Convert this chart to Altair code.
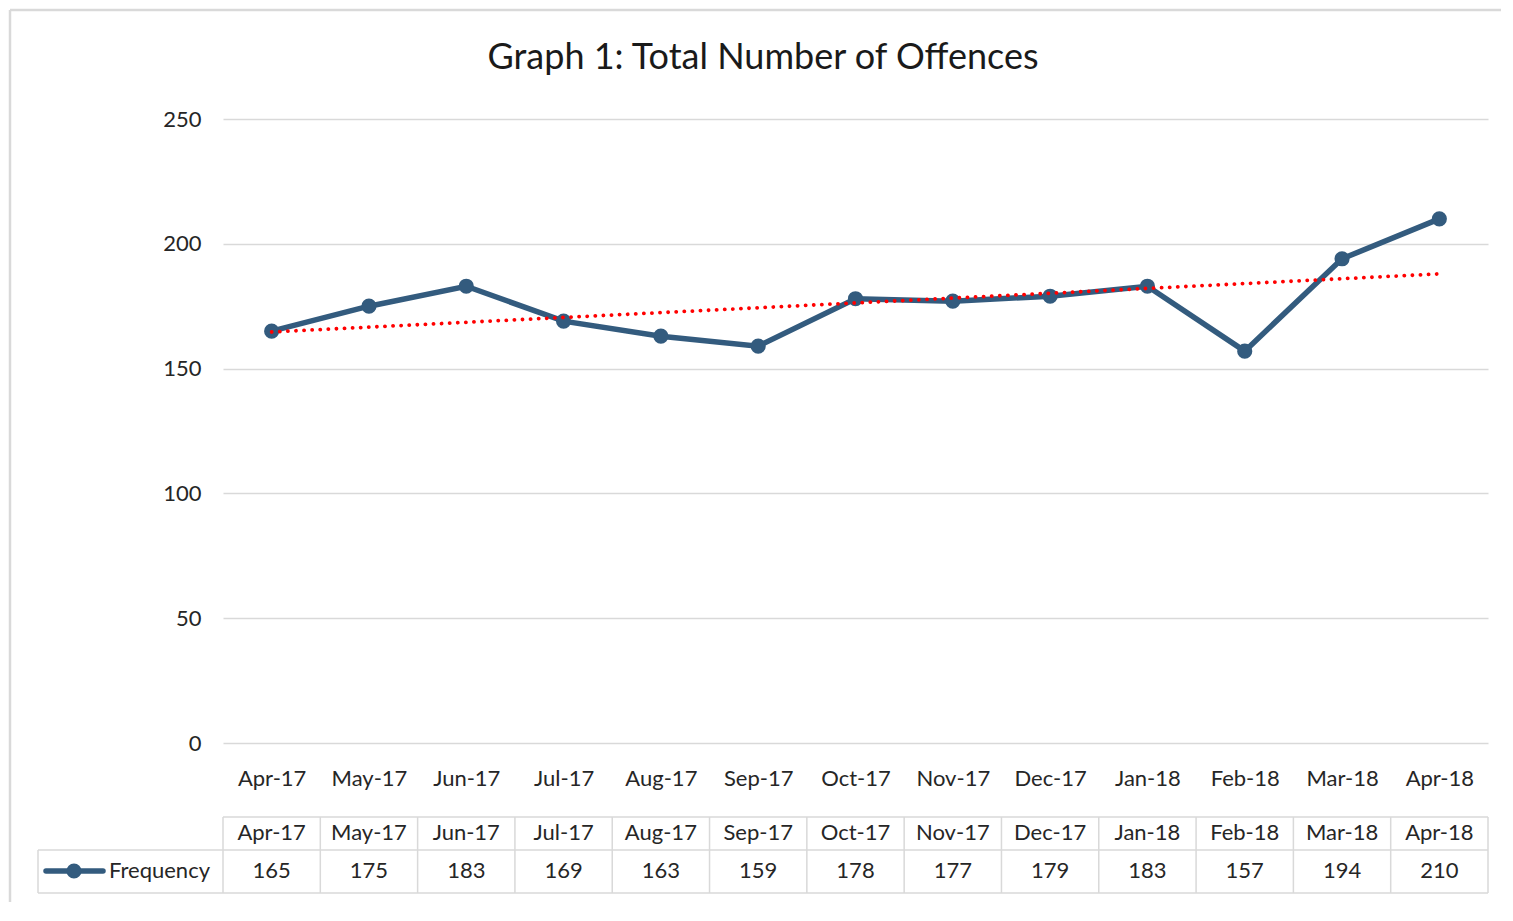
import json
import altair as alt
import pandas as pd

months = ["Apr-17", "May-17", "Jun-17", "Jul-17", "Aug-17", "Sep-17", "Oct-17",
          "Nov-17", "Dec-17", "Jan-18", "Feb-18", "Mar-18", "Apr-18"]
values = [165, 175, 183, 169, 163, 159, 178, 177, 179, 183, 157, 194, 210]
y_ticks = [0, 50, 100, 150, 200, 250]
title_text = "Graph 1: Total Number of Offences"
series_name = "Frequency"

LINE_C = "#335b7e"
GRID_C = "#d9d9d9"
TXT_C = "#262626"
FONT = "Lato"
W, H = 1265, 624

df = pd.DataFrame({"idx": list(range(len(months))), "month": months, "value": values})
bdf = pd.DataFrame({"b": [i - 0.5 for i in range(len(months) + 1)]})
ldf = pd.DataFrame({"label": [series_name]})
tdf = pd.DataFrame({"t": [title_text]})

xs = alt.Scale(domain=[-0.5, len(months) - 0.5], nice=False, zero=False)
ys = alt.Scale(domain=[0, 250], nice=False)

label_expr = json.dumps(months) + "[datum.value]"

base = alt.Chart(df)

line = base.mark_line(color=LINE_C, strokeWidth=5.5).encode(
    x=alt.X("idx:Q", scale=xs,
            axis=alt.Axis(values=list(range(len(months))), labelExpr=label_expr,
                          grid=False, ticks=False, domain=False, labelPadding=25,
                          labelFontSize=22, labelColor=TXT_C, labelFont=FONT, title=None)),
    y=alt.Y("value:Q", scale=ys,
            axis=alt.Axis(values=y_ticks, grid=True, gridColor=GRID_C, gridWidth=1.3,
                          ticks=False, domain=False, labelPadding=22,
                          labelFontSize=22, labelColor=TXT_C, labelFont=FONT, title=None)),
)

points = base.mark_circle(size=230, opacity=1, color=LINE_C).encode(
    x=alt.X("idx:Q", scale=xs), y=alt.Y("value:Q", scale=ys)
)

trend = base.transform_regression("idx", "value").mark_line(
    color="#ff0000", strokeDash=[0.1, 8], strokeCap="round", strokeWidth=3.8
).encode(x=alt.X("idx:Q", scale=xs), y=alt.Y("value:Q", scale=ys))

# data table
hdr = base.mark_text(fontSize=22, font=FONT, color=TXT_C, baseline="middle").encode(
    x=alt.X("idx:Q", scale=xs), y=alt.value(714), text="month:N"
)
vals = base.mark_text(fontSize=22, font=FONT, color=TXT_C, baseline="middle").encode(
    x=alt.X("idx:Q", scale=xs), y=alt.value(752), text="value:Q"
)
vlines = alt.Chart(bdf).mark_rule(color=GRID_C, strokeWidth=1.5).encode(
    x=alt.X("b:Q", scale=xs), y=alt.value(698), y2=alt.value(774)
)
hl_top = alt.Chart(ldf).mark_rule(color=GRID_C, strokeWidth=1.5).encode(
    x=alt.value(0), x2=alt.value(W), y=alt.value(698)
)
hl_mid = alt.Chart(ldf).mark_rule(color=GRID_C, strokeWidth=1.5).encode(
    x=alt.value(-185), x2=alt.value(W), y=alt.value(731)
)
hl_bot = alt.Chart(ldf).mark_rule(color=GRID_C, strokeWidth=1.5).encode(
    x=alt.value(-185), x2=alt.value(W), y=alt.value(774)
)
vl_left = alt.Chart(ldf).mark_rule(color=GRID_C, strokeWidth=1.5).encode(
    x=alt.value(-185), y=alt.value(731), y2=alt.value(774)
)
leg_line = alt.Chart(ldf).mark_rule(color=LINE_C, strokeWidth=5.5, strokeCap="round").encode(
    x=alt.value(-177), x2=alt.value(-120), y=alt.value(752)
)
leg_pt = alt.Chart(ldf).mark_circle(color=LINE_C, size=230, opacity=1).encode(
    x=alt.value(-149), y=alt.value(752)
)
leg_txt = alt.Chart(ldf).mark_text(fontSize=22, font=FONT, color=TXT_C, align="left",
                                   baseline="middle").encode(
    x=alt.value(-114), y=alt.value(752), text="label:N"
)

# outer frame (top and left edges visible)
frame_top = alt.Chart(ldf).mark_rule(color=GRID_C, strokeWidth=2.5).encode(
    x=alt.value(-213), x2=alt.value(1278), y=alt.value(-109)
)
frame_left = alt.Chart(ldf).mark_rule(color=GRID_C, strokeWidth=2.5).encode(
    x=alt.value(-213), y=alt.value(-109), y2=alt.value(783)
)

title = alt.Chart(tdf).mark_text(fontSize=36, font=FONT, color="#1a1a1a",
                                 baseline="middle", align="center").encode(
    x=alt.value(540), y=alt.value(-61), text="t:N"
)

chart = alt.layer(
    frame_top, frame_left, title,
    line, points, trend,
    vlines, hl_top, hl_mid, hl_bot, vl_left,
    hdr, vals, leg_line, leg_pt, leg_txt,
).properties(width=W, height=H, padding=0, background="white").configure_view(stroke=None)

chart.save("out.html", embed_options={"renderer": "svg", "actions": False})
